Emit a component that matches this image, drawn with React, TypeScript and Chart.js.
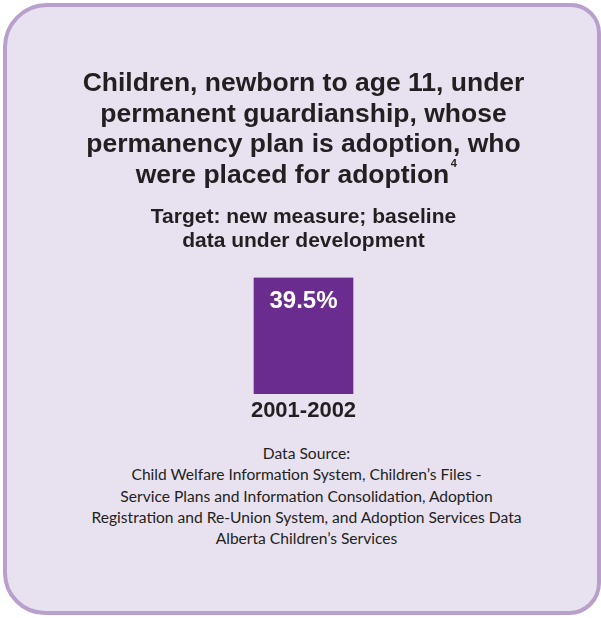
import React, { useEffect, useRef } from "react";
import { Chart, registerables } from "chart.js";

Chart.register(...registerables);

const titleLines = [
  "Children, newborn to age 11, under",
  "permanent guardianship, whose",
  "permanency plan is adoption, who",
  "were placed for adoption   ",
];
const titleSup = "4";
const subtitleLines = ["Target: new measure; baseline", "data under development"];
const categories = ["2001-2002"];
const values = [39.5];
const valueLabels = ["39.5%"];
const sourceLines = [
  "Data Source:",
  "Child Welfare Information System, Children\u2019s Files -",
  "Service Plans and Information Consolidation, Adoption",
  "Registration and Re-Union System, and Adoption Services Data",
  "Alberta Children\u2019s Services",
];

const TEXT = "#231f20";
const BAR = "#6a2c8e";
const FONT = "'Liberation Sans', Arial, sans-serif";
const TITLE_SIZE = 26.5;
const TITLE_LH = 30.5;

const barLabelPlugin = {
  id: "barLabel",
  afterDatasetsDraw(chart: any) {
    const ctx = chart.ctx;
    const meta = chart.getDatasetMeta(0);
    ctx.save();
    ctx.fillStyle = "#ffffff";
    ctx.font = `bold 24px ${FONT}`;
    ctx.textAlign = "center";
    ctx.textBaseline = "middle";
    meta.data.forEach((el: any, i: number) => {
      ctx.fillText(valueLabels[i], el.x, el.y + 24);
    });
    ctx.restore();
  },
};

const supPlugin = {
  id: "titleSup",
  afterDraw(chart: any) {
    const t = chart.titleBlock;
    if (!t) return;
    const ctx = chart.ctx;
    ctx.save();
    ctx.font = `bold ${TITLE_SIZE}px ${FONT}`;
    const last = titleLines[titleLines.length - 1];
    const wFull = ctx.measureText(last).width;
    const wTrim = ctx.measureText(last.trimEnd()).width;
    const cx = (t.left + t.right) / 2;
    const y = t.top + (t.options.padding.top || 0) + TITLE_LH * (titleLines.length - 1) + TITLE_LH / 2;
    ctx.font = `bold 11px ${FONT}`;
    ctx.fillStyle = TEXT;
    ctx.textBaseline = "middle";
    ctx.textAlign = "left";
    ctx.fillText(titleSup, cx - wFull / 2 + wTrim + 1.5, y - 11);
    ctx.restore();
  },
};

export default function App() {
  const ref = useRef<HTMLCanvasElement | null>(null);
  useEffect(() => {
    document.body.style.margin = "0";
    const chart = new Chart(ref.current!, {
      type: "bar",
      data: {
        labels: categories,
        datasets: [
          {
            data: values,
            backgroundColor: BAR,
            borderWidth: 0,
            barThickness: 99,
          },
        ],
      },
      plugins: [barLabelPlugin, supPlugin],
      options: {
        responsive: false,
        animation: false,
        events: [],
        layout: { padding: { left: 20, right: 14, top: 0, bottom: 1.6 } },
        plugins: {
          legend: { display: false },
          tooltip: { enabled: false },
          title: {
            display: true,
            text: titleLines,
            color: TEXT,
            font: { family: FONT, size: TITLE_SIZE, weight: "bold", lineHeight: TITLE_LH / TITLE_SIZE },
            padding: { top: 68.5, bottom: 8 },
          },
          subtitle: {
            display: true,
            text: subtitleLines,
            color: TEXT,
            font: { family: FONT, size: 21, weight: "bold", lineHeight: 24 / 21 },
            padding: { top: 7, bottom: 24 },
          },
        },
        scales: {
          x: {
            grid: { display: false, drawTicks: false, tickLength: 0 },
            border: { display: false },
            ticks: {
              color: TEXT,
              padding: 4,
              font: { family: FONT, size: 22, weight: "bold" },
            },
          },
          y: {
            display: false,
            min: 0,
            max: Math.max(...values),
          },
        },
      },
    } as any);
    return () => chart.destroy();
  }, []);

  return (
    <div style={{ position: "relative", width: 601, height: 618, background: "#ffffff", overflow: "hidden" }}>
      <div
        style={{
          position: "absolute",
          left: 3,
          top: 3,
          width: 598,
          height: 612,
          boxSizing: "border-box",
          border: "4px solid #b89fcc",
          borderRadius: "44px 30px 32px 42px",
          background: "#e8e1ef",
        }}
      />
      <canvas ref={ref} width={601} height={430} style={{ position: "absolute", left: 0, top: 0 }} />
      <div
        style={{
          position: "absolute",
          left: 6,
          width: 601,
          top: 443,
          textAlign: "center",
          fontFamily: "Lato, 'Open Sans', sans-serif",
          fontSize: 15.6,
          lineHeight: "21.3px",
          color: TEXT,
        }}
      >
        {sourceLines.map((l, i) => (
          <div key={i}>{l}</div>
        ))}
      </div>
    </div>
  );
}
